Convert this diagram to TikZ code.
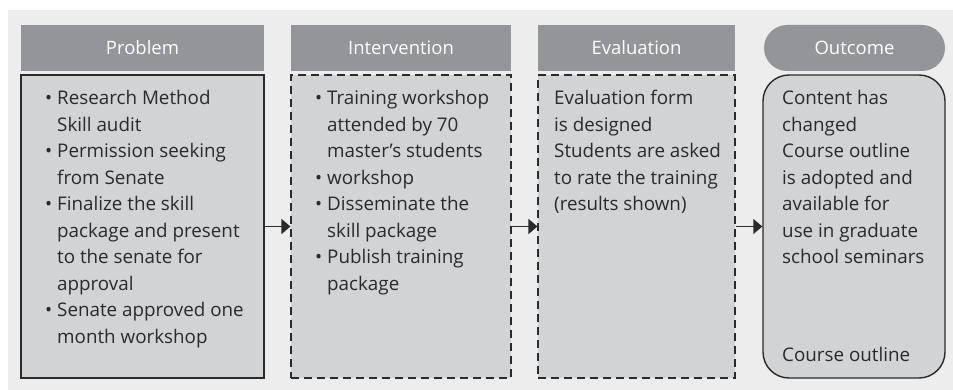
\documentclass[tikz,border=0pt]{standalone}
\usepackage{fontspec}
\setmainfont{Open Sans}
\usetikzlibrary{arrows.meta}
\definecolor{bgc}{HTML}{EDEDED}
\definecolor{hdc}{HTML}{939598}
\definecolor{bdc}{HTML}{D1D3D4}
\definecolor{lnc}{HTML}{2B2A2B}
\newcommand{\bul}{\makebox[12pt][l]{\textbullet}}
\newcommand{\ind}{\hspace*{12pt}}
\begin{document}
\begin{tikzpicture}[x=1pt,y=-1pt,
  hdr/.style={fill=hdc,draw=none,inner sep=0,text=white,font=\fontsize{18.5}{22}\selectfont},
  body/.style={fill=bdc,draw=lnc,line width=1.4pt,inner sep=0},
  dbody/.style={fill=bdc,draw=lnc,line width=1.1pt,dash pattern=on 8pt off 5pt,inner sep=0},
  txt/.style={anchor=base west,inner sep=0,text=lnc},
  conn/.style={draw=lnc,line width=1.4pt,-{Triangle[length=9pt,width=15pt]}}]
\useasboundingbox (0,0) rectangle (953,390);
\fill[bgc] (8,10) rectangle (953,390);
% headers
\node[hdr,minimum width=243pt,minimum height=46pt] (h1) at (142.5,48) {Problem};
\node[hdr,minimum width=220pt,minimum height=46pt] (h2) at (401,48) {Intervention};
\node[hdr,minimum width=197pt,minimum height=46pt] (h3) at (636.5,48) {Evaluation};
\node[hdr,minimum width=181pt,minimum height=46pt,rounded corners=23pt] (h4) at (854.5,48) {Outcome};
% bodies
\node[body,minimum width=243pt,minimum height=303pt] (b1) at (142.5,226.5) {};
\node[dbody,minimum width=220pt,minimum height=303pt] (b2) at (401,226.5) {};
\node[dbody,minimum width=197pt,minimum height=303pt] (b3) at (636.5,226.5) {};
\node[body,minimum width=182pt,minimum height=303pt,rounded corners=26pt] (b4) at (854,226.5) {};
% texts
\node[txt] (t1) at (45,105) {\parbox[t]{215pt}{\fontsize{18.8}{26.5}\selectfont
\bul Research Method\\\ind Skill audit\\
\bul Permission seeking\\\ind from Senate\\
\bul Finalize the skill\\\ind package and present\\\ind to the senate for\\\ind approval\\
\bul Senate approved one\\\ind month workshop}};
\node[txt] (t2) at (315,105) {\parbox[t]{195pt}{\fontsize{18.8}{26.5}\selectfont
\bul Training workshop\\\ind attended by 70\\\ind master’s students\\
\bul workshop\\
\bul Disseminate the\\\ind skill package\\
\bul Publish training\\\ind package}};
\node[txt] (t3) at (554,105) {\parbox[t]{180pt}{\fontsize{18.8}{26.5}\selectfont
Evaluation form\\is designed\\Students are asked\\to rate the training\\(results shown)}};
\node[txt] (t4) at (782,105) {\parbox[t]{165pt}{\fontsize{18.8}{26.5}\selectfont
Content has\\changed\\Course outline\\is adopted and\\available for\\use in graduate\\school seminars}};
\node[txt] (t5) at (782,361) {\fontsize{18.8}{26.5}\selectfont Course outline};
% connectors
\draw[conn] (b1.east) -- (b2.west);
\draw[conn] (b2.east) -- (b3.west);
\draw[conn] (b3.east) -- (b4.west);
\end{tikzpicture}
\end{document}
